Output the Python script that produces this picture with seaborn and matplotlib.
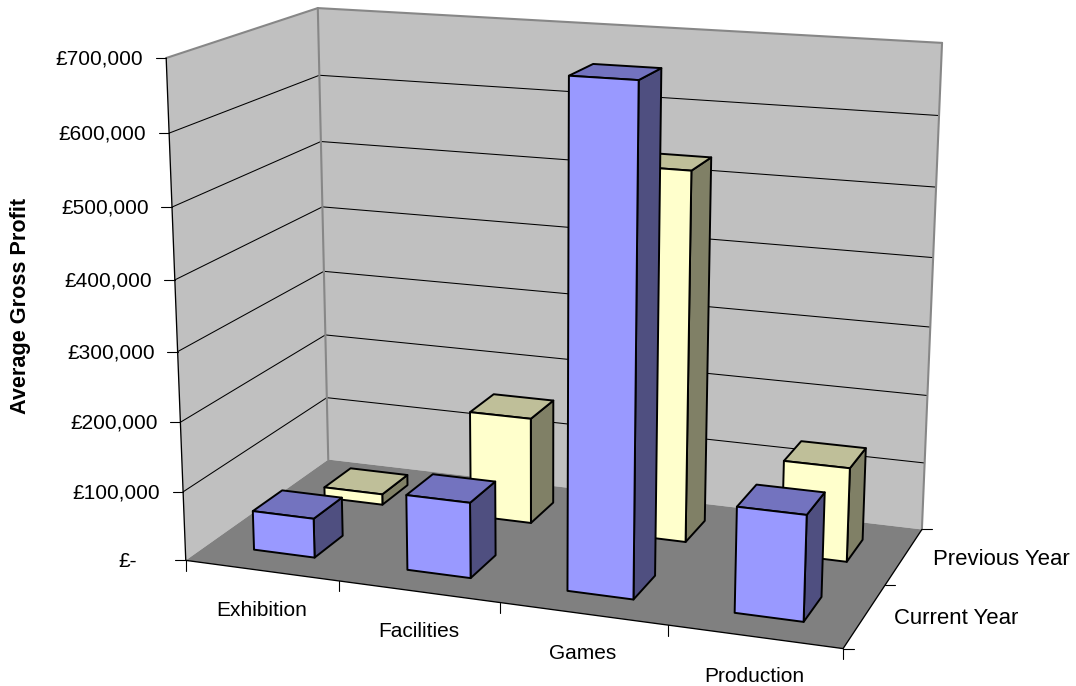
import numpy as np
import matplotlib
matplotlib.use("Agg")
import matplotlib.pyplot as plt
import seaborn as sns

categories = ["Exhibition", "Facilities", "Games", "Production"]
series_names = ["Current Year", "Previous Year"]
current_year = [57000, 108000, 697000, 147000]
previous_year = [16000, 157000, 534000, 136000]
y_ticks = [0, 100000, 200000, 300000, 400000, 500000, 600000, 700000]
y_max = 700000

# Camera calibration: frame corners (category, series depth, value) -> canvas pixels
frame_world = [(0, 0, 0), (4, 0, 0), (4, 2, 0), (0, 2, 0),
               (0, 0, 1), (0, 2, 1), (4, 2, 1)]
frame_canvas = [(186, 560), (843, 649), (922, 529), (328, 460),
                (166, 58), (318, 8), (942, 43)]

rows = []
for (X, Y, Z), (u, v) in zip(frame_world, frame_canvas):
    u, v = u / 1000, v / 1000
    rows.append([X, Y, Z, 1, 0, 0, 0, 0, -u * X, -u * Y, -u * Z, -u])
    rows.append([0, 0, 0, 0, X, Y, Z, 1, -v * X, -v * Y, -v * Z, -v])
camera = np.linalg.svd(np.array(rows, float))[2][-1].reshape(3, 4)


def project(x, y, value):
    h = camera @ np.array([x, y, value / y_max, 1.0])
    return 1000 * h[0] / h[2], 1000 * h[1] / h[2]


sns.set_theme(style="white")
plt.rcParams["font.family"] = ["Liberation Sans", "DejaVu Sans"]

wall_color = "#C0C0C0"
floor_color = "#808080"
edge_gray = "#878787"
blue = {"front": "#9999FF", "side": "#4F4F80", "top": "#7373BF"}
cream = {"front": "#FFFFCC", "side": "#808066", "top": "#BFBF99"}

fig = plt.figure(figsize=(10.76, 6.86), dpi=100)
ax = fig.add_axes([0, 0, 1, 1])
ax.set_xlim(0, 1076)
ax.set_ylim(686, 0)
ax.axis("off")


def face(points, color, **kw):
    ax.fill(*zip(*[project(*p) for p in points]), facecolor=color, **kw)


def segment(a, b, color="black", lw=0.8, z=3):
    pa, pb = project(*a), project(*b)
    ax.plot([pa[0], pb[0]], [pa[1], pb[1]], color=color, lw=lw, zorder=z,
            solid_capstyle="round")


# Walls and floor
face([(0, 0, 0), (0, 2, 0), (0, 2, y_max), (0, 0, y_max)], wall_color, edgecolor="none", zorder=1)
face([(0, 2, 0), (4, 2, 0), (4, 2, y_max), (0, 2, y_max)], wall_color, edgecolor="none", zorder=1)
face([(0, 0, 0), (4, 0, 0), (4, 2, 0), (0, 2, 0)], floor_color, edgecolor="none", zorder=1)

# Gridlines run along the left wall and on across the back wall
for tick in y_ticks[1:-1]:
    segment((0, 0, tick), (0, 2, tick), lw=0.75)
    segment((0, 2, tick), (4, 2, tick), lw=0.75)

# Wall outlines
segment((0, 0, y_max), (0, 2, y_max), edge_gray, 1.5)
segment((0, 2, y_max), (4, 2, y_max), edge_gray, 1.5)
segment((0, 2, 0), (0, 2, y_max), edge_gray, 1.5)
segment((4, 2, 0), (4, 2, y_max), edge_gray, 1.5)

# Axis lines, ticks
segment((0, 0, 0), (0, 0, y_max), lw=0.95)
segment((0, 0, 0), (4, 0, 0), lw=0.95)
segment((4, 0, 0), (4, 2, 0), lw=0.95)
for tick in y_ticks:
    px, py = project(0, 0, tick)
    ax.plot([px - 10.5, px], [py, py], color="black", lw=0.8, zorder=3)
    if tick == 0:
        label, right = "£-", px - 49
    else:
        label, right = f"£{tick:,}", px - 23
    ax.text(right, py + 1, label, ha="right", va="center", fontsize=15, color="black")
for i in range(len(categories) + 1):
    px, py = project(i, 0, 0)
    ax.plot([px, px], [py, py + 10.5], color="black", lw=0.8, zorder=3)
for j in range(len(series_names) + 1):
    px, py = project(4, j, 0)
    ax.plot([px, px + 10.5], [py, py], color="black", lw=0.8, zorder=3)

# Axis labels
for i, name in enumerate(categories):
    px, py = project(i + 0.5, 0, 0)
    ax.text(px, py + 40, name, ha="center", va="center", fontsize=15, color="black")
for j, name in enumerate(series_names):
    px, py = project(4, j + 0.5, 0)
    ax.text(px + 29.5, py + 2.5, name, ha="left", va="center", fontsize=15.9, color="black")
ax.text(21, 306, "Average Gross Profit", rotation=90, ha="center", va="center",
        fontsize=15.6, fontweight="bold", color="black")


def column(i, j, value, palette, z):
    x0, x1 = i + 0.3, i + 0.7
    y0, y1 = j + 0.3, j + 0.7
    style = dict(edgecolor="black", linewidth=1.4, joinstyle="round", zorder=z)
    face([(x1, y0, 0), (x1, y1, 0), (x1, y1, value), (x1, y0, value)], palette["side"], **style)
    face([(x0, y0, value), (x1, y0, value), (x1, y1, value), (x0, y1, value)], palette["top"], **style)
    face([(x0, y0, 0), (x1, y0, 0), (x1, y0, value), (x0, y0, value)], palette["front"], **style)


# Back row first so the front row overlaps it
for i, value in enumerate(previous_year):
    column(i, 1, value, cream, 5 + i * 0.1)
for i, value in enumerate(current_year):
    column(i, 0, value, blue, 7 + i * 0.1)

fig.savefig("out.png", dpi=100, facecolor="white")
